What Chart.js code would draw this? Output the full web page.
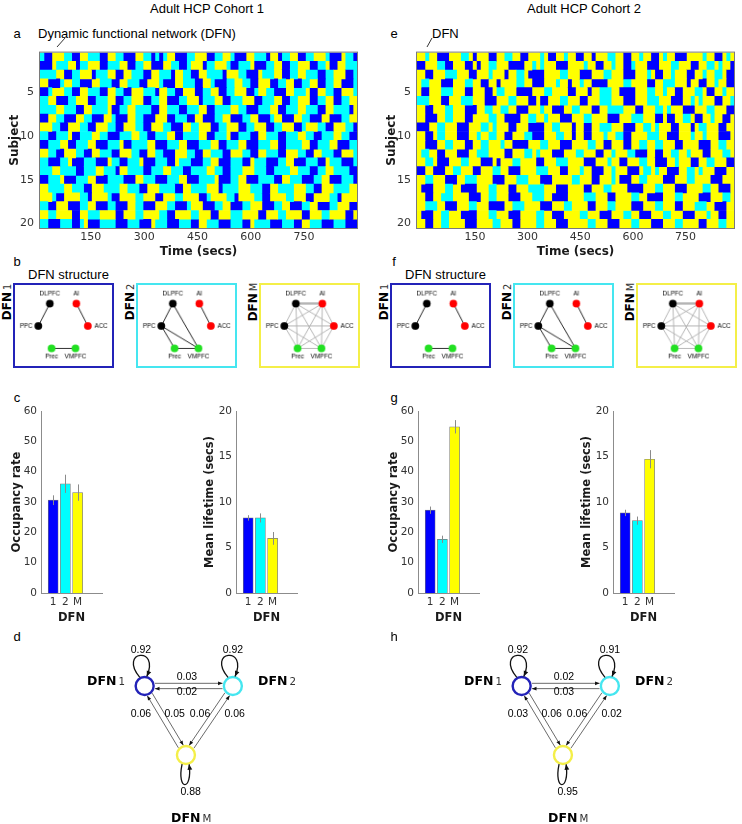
<!DOCTYPE html>
<html>
<head>
<meta charset="utf-8">
<title>DFN figure</title>
<script src="https://cdn.jsdelivr.net/npm/chart.js@4.4.1/dist/chart.umd.min.js"></script>
<style>
  body { margin: 0; background: #fff; }
  #page { position: relative; width: 742px; height: 824px; overflow: hidden; background: #fff;
          font-family: "Liberation Sans", Arial, sans-serif; color: #000; }
  #page canvas { position: absolute; }
  .t { position: absolute; white-space: nowrap; line-height: 1; }
  .lab { font-family: "DejaVu Sans", sans-serif; font-weight: bold; }
  .lab span { font-weight: normal; font-size: 0.82em; color: #333; margin-left: 2px; }
</style>
</head>
<body>
<div id="page"></div>
<script>
// ---------- data ----------
const dfnLabels = ['1', '2', 'M'];
const subjects = ['1','2','3','4','5','6','7','8','9','10','11','12','13','14','15','16','17','18','19','20'];
const timeTicks = [150, 300, 450, 600, 750];
const timeAxis1 = [7, 899];    // time (secs) spanned by the x axis, cohort 1
const timeAxis2 = [-15, 888];  // cohort 2

// DFN state per time bin for each subject: B = DFN 1, C = DFN 2, Y = DFN M
const seq1 = [
  'CBBYYYCCBB YYCCCBBYYC CBBBYYCCBC BCYYBBBCCY YYBBCCYYCB BBYYCCCBYY BCCYYBBCCY YYCBBBYCCB',
  'BBBYCCCYYB CCYYYBBCCC YYBBCCYYBB BYYCCBBCYY YBCCYYYCBB CCCYBBBCCY YBBCCYYYBB CCYBBYYCCC',
  'CCCCYYBBCC YYYBCCCYYB BYYCCCBBYY CCCBYYCCBB YYCCCCBYYY CCBBBYCCCY YBBCCYYCCC BBCCYYYBBC',
  'YYBBBCYYCC BBBYYCCCBB YYCCCBBYYY CBBBYYCCCB BYYCBBBCCY YCCBBYYYBB CCYYBBCCYY BBCCYYBBBC',
  'BBCYYYCCBB YYCCCBBYYC CBBYYYCCCB YYCCBBYYYB BCCYYBBCCY YYBBCYYCCB BBYYCCCYBB YYCCBBYYYC',
  'CCYYBBBCCY YYBBCCCYYB BCCYYYBBCC YYBBBCCYYY BCCCYYBBCC CYYYBBCCCY YBBCCYYYBB CCYYBBCCYY',
  'CCCCYYCCCB BYYCCCCYBB CCYYCCCCBB YYCCCBBCCC YYBBCCCCYY CCBBBCCCYY BBCCCYYCCC BBYYCCCCBY',
  'BBYYCCBBBY YCCBBBYYCB BBYYCCBBBY YYBBCCCBBY YBBBCCYYBB BCCYYBBBCY YBBBYYCCBB BYYBBBCCYY',
  'YYYCCBBYYY CCBBYYYCCB BYYYCCBBYY YCCBBBYYCC YYYBBCCYYY BBCCYYYBBC CYYYBBCYYY CCBBYYYCCB',
  'CCBBCCCYBB CCCYYCCBBB CCCYYCCBBC CCYYBBCCCC YYBBCCCYBB CCCBBYYCCC BBCCCYYCCB BCCCYYCCBB',
  'BBCCCYYBBC CCYYBBBCCC YBBCCCCYYB BBCCCYYBBB CCCYYBBCCC YYBBBCCCYY BBCCCCYYBB CCCYYBBBCC',
  'YYCCBBYYYC CBBYYCCCBB YYYCCBBYYC CBBBYYYCCB BYYCCCBBYY YCCBBYYCCC BBYYYCCBBY YCCCBBYYYC',
  'CCBBBCCYBB BCCCBBBYCC BBCCCYBBBC CCBBYCCCBB BCCYYBBBCC CBBYCCCBBB CCYYBBBCCC BBYCCCBBBC',
  'CCCYYCCCCB BCCCYYCCCB YYCCCCBBCC CYYCCCBBCC CCYYCCBBCC CYYYCCCBBC CCCYYCCCBB CCYYCCCCBB',
  'BBCCCYBBBC CCYYBBBCCC CBBBYYCCCB BBCCCYYBBB CCCCYBBBCC YYBBBCCCCB BYYCCCBBBC CYYBBBCCCB',
  'YYCCCCYYCC CBBYYYCCCC YYCCCBBYYY CCCCBBYYCC CCYYYBCCCC YYYCCCBBYY CCCCYYYCCB BYYYCCCCYY',
  'YYYCBBYYYY CCBYYYYCBB YYYYCCYYYB BYYYCCYYYY BBCYYYYCCB YYYYCCBBYY YYCCYYYBBY YYYCCBYYYY',
  'CCBBYYYBBB CCYYBBBCCB BBYYCCBBBY YYCCBBBCYY YBBBCCYYBB BCCYYYBBBC CYYBBBCCYY BBBCCYYYBB',
  'YYCCYYYYBB YYCCCYYYYB BYYYCCYYYY CCBBYYYYCC YYYBBYYYCC CYYYYBBYYY CCYYYYBBYY YCCYYYYBBY',
  'CCBBBCCCBB CYBBBCCCCB BBCCCBBBYC CCBBBCCCBB YYCCCBBBCC CBBYCCCCBB BCCCBBYYCC CBBBCCCBBB'
];
const seq2 = [
  'YYCYYBBBYY YCCYBYYYBB YYCCYYBBYY YCYBBYYCYY BBYYBYYYCC YYBBYYCYYB BYCYYBBBYY YYCYYBBYCY',
  'BBYYYCCBBY YYBBYBYYCC YYYBBBBYYC YCYYYBBBYY YYCYYBBYYC YYBBCYYYBB BYYYCCYYYB BYYCCYCYYB',
  'YYBBYYYCCC YYYBBYYYCY YYBYYCCYBB BBYYYYCCYY YBBBYYYCCY YYBBBYYYCY BBYYCYYYBB YYCYYCCYBB',
  'YCCYYYBBBY YYCCYYBBYY BYYYYCCYYB BBYYYCYYBY YCYYBBBBYY YYCCYYYYBB YYCCCYYYBY YBBYYCYYBB',
  'YBBYYYCCCY YYBBYYYBBY CCYYYBBBBY YYCCYYYYBB YYYBYYCCCY YBBBBYYYCC YYCYYBBYYY CCYBBYYCYY',
  'CCCYYYBBYY YCCCYYYBBB YYYCCYYYBB YBBYYYCCYY YBBYYYCCCY YYBBBYYYCC CYYYBBBYYC YCYYYBBYYC',
  'YYBBYYYCCY YYBBBYYCCY YCCYYBBBYY YCYYBBBYYC CYYYBBYYCC CCYYYBBYYY CCYCYYYBBB YYYCCYYYBB',
  'YYBBBYYCCY YYBBYYYYCC YYBBBBYYCC YYCYYYBBBY YYCCYYYYBB BYYYCCCYYY BBYBBYYCCY BBYYCYYBBY',
  'BBBYYCCYYY BBBYYYCCYC YYYBBYYYBB BBYYCCYYYB YYBBYYCCCY YYBBBYYCCY CYYYBBYYYB YCCYYYBBYY',
  'YYBBYCCYYY BBBYYCYYCC YYBBYYYCCB BBYYYCCYYB YYBBYYYCYY CCBBYYYYCC CYYBBBYYYC YYCYYYBBBY',
  'YYBBBYYCCY YYBBYYCCYY YCYYBBBBYY YCCYYYBBBY YYYCCYYBBY YYBBYYCCYY CCYYYBBYYY YBBBYYCCYY',
  'YCCYYBBYYY BBBYYCCCYY YYBBYYYCCY CYYYBBBYYY CCYYYBBYYC YYYCCBBBYY BBYYCCYYCY YYBBYYYCCY',
  'YYCCYBBBYY YCCYYYBBBY BYYYCCYYYY BBYYYCCCYY YYBBBYYYCY YBBYYYCCYY BBBYYCYYYB BYYCCYYYBB',
  'BBYYBBBYYC CYYYBBYYYC CYYBBBYYYY CCCYYYBBYY YCYYBBBYYC YYYBBBYCCY CYYBBBYYCC YCYYYBBBYY',
  'YYCCYYYBBB YYCCCYYYYB BBYYYCCCYY YBBBYYYYYC CYYYBBYYYC YBBBYYCCYY YYBBBYYYCC YYYYBBBYYY',
  'YBBBYYYCCY YBBBBYYYCC YYYBBYYYCC CCYYYBBBYY YYBBYYYCCY YYYBBBBYYY CCYYYBBBYY YYCCYYBBBY',
  'YYBBYYCCCY YYYBBBYYCC YYYBBBYYYC CCYYBBBBYY YYCCCYYYBB YYYYCCYYBB BBYYYCCYYY YBBBYYYCCY',
  'YYCCCYYBBB YYYCCYYYBB BBYYCCCYYY YBBBYYYCCY YYYBBYYYCC YYYYBBBYYY CCYYYBBYYY CCCYYBBBYY',
  'YBBBYYCCYY YBBBBYYYCC YYYBBBYYYY CCYYBBBYYY YCCYYYBBBY YYCCYYBBBY YYCCYYYBBB YYYCYYBBYY',
  'YYBBYYCCYY YYBBBYYYYC CYYYBBYYYY CCYYYBBBYY YYYCCYYYBB BYYYCCYYYB BBYYYCCYYY YBBYYYCCYY'
];

const occTicks = [0, 10, 20, 30, 40, 50, 60];
const lifeTicks = [0, 5, 10, 15, 20];
const occRate1 = [30.6, 36.0, 33.1];
const occErr1 = [1.6, 3.0, 2.7];
const lifetime1 = [8.25, 8.25, 6.0];
const lifeErr1 = [0.3, 0.5, 0.7];
const occRate2 = [27.3, 17.7, 54.8];
const occErr2 = [1.2, 1.2, 2.2];
const lifetime2 = [8.8, 7.95, 14.7];
const lifeErr2 = [0.35, 0.45, 1.0];

// transition probabilities, row = from, col = to (DFN 1, DFN 2, DFN M)
const transProb1 = [[0.92, 0.03, 0.05], [0.02, 0.92, 0.06], [0.06, 0.06, 0.88]];
const transProb2 = [[0.92, 0.02, 0.06], [0.03, 0.91, 0.06], [0.03, 0.02, 0.95]];

// DFN structure graphs
const regions = ['DLPFC', 'AI', 'PPC', 'ACC', 'Prec', 'VMPFC'];
const edgesDFN1 = [[0, 2], [1, 3], [4, 5]];
const edgesDFN2 = [[0, 2], [1, 3], [4, 5], [0, 5], [2, 5], [2, 4]];
const edgesDFNM = [[0, 1], [0, 2], [0, 3], [0, 4], [0, 5], [1, 2], [1, 3], [1, 4], [1, 5],
                   [2, 3], [2, 4], [2, 5], [3, 4], [3, 5], [4, 5]];

// ---------- styles / layout ----------
const stateColor = { B: '#0000ff', C: '#00ffff', Y: '#ffff00' };
const dfnColor = ['#0000ff', '#00ffff', '#ffff00'];
const frameColor = ['#2323b8', '#45e6f0', '#f4ef48'];
const regionColor = ['#000', '#ff0000', '#000', '#ff0000', '#22e022', '#22e022'];
const regionPos = [[35, 17], [65, 17], [22, 43], [78, 43], [37, 69], [64, 69]];
const regionLabelOff = [[0, -10, 'center'], [0, -10, 'center'], [-6, 0, 'right'], [7, 0, 'left'], [0, 9, 'center'], [0, 9, 'center']];
const nodePos = [[142, 56], [236, 56], [186, 134]];
const transEdges = [
  { from: 0, to: 1, side: 1, label: [187, 46] },
  { from: 1, to: 0, side: 1, label: [187, 63] },
  { from: 0, to: 2, side: 1, label: [174, 88] },
  { from: 2, to: 0, side: 1, label: [138, 88] },
  { from: 1, to: 2, side: -1, label: [201, 88] },
  { from: 2, to: 1, side: -1, label: [238, 88] }
];
const loopShape = [{ a1: -118, a2: -78, ext: 28 }, { a1: -118, a2: -78, ext: 28 }, { a1: 112, a2: 72, ext: 23 }];
const loopLabel = [[138, 15], [236, 15], [191, 176]];

Chart.defaults.font.family = '"DejaVu Sans", sans-serif';
Chart.defaults.color = '#333';

const page = document.getElementById('page');

function put(html, x, y, size, cls, tf) {
  const d = document.createElement('div');
  d.className = 't' + (cls ? ' ' + cls : '');
  d.innerHTML = html;
  d.style.left = x + 'px';
  d.style.top = y + 'px';
  d.style.fontSize = size + 'px';
  d.style.transform = tf || 'translate(-50%,-50%)';
  page.appendChild(d);
}

function makeCanvas(x, y, w, h, css) {
  const c = document.createElement('canvas');
  c.width = w; c.height = h;
  c.style.left = x + 'px'; c.style.top = y + 'px';
  if (css) c.style.cssText += css;
  page.appendChild(c);
  return c;
}

const noLegend = { legend: { display: false }, tooltip: { enabled: false } };
const noGrid = { display: false, drawTicks: false };

// box round the heatmap
const frame = {
  id: 'frame',
  afterDraw(chart) {
    const a = chart.chartArea, ctx = chart.ctx;
    ctx.save();
    ctx.strokeStyle = '#7a7a7a';
    ctx.lineWidth = 1;
    ctx.strokeRect(a.left - 0.5, a.top - 0.5, a.right - a.left + 1, a.bottom - a.top + 1);
    ctx.restore();
  }
};

function toRuns(str, span) {
  const s = str.replace(/ /g, '');
  const dt = (span[1] - span[0]) / s.length;
  const out = [];
  let k = 0;
  for (let i = 1; i <= s.length; i++) {
    if (i === s.length || s[i] !== s[k]) {
      out.push({ t0: span[0] + k * dt, t1: span[0] + i * dt, s: s[k] });
      k = i;
    }
  }
  return out;
}

function heatmap(canvas, seqs, span) {
  const rowRuns = seqs.map(r => toRuns(r, span));
  const n = Math.max(...rowRuns.map(r => r.length));
  const datasets = [];
  for (let k = 0; k < n; k++) {
    datasets.push({
      data: rowRuns.map(r => r[k] ? [r[k].t0, r[k].t1] : null),
      backgroundColor: rowRuns.map(r => r[k] ? stateColor[r[k].s] : 'rgba(0,0,0,0)'),
      borderWidth: 0, grouped: false, barPercentage: 1, categoryPercentage: 1
    });
  }
  return new Chart(canvas, {
    type: 'bar',
    data: { labels: subjects, datasets },
    options: {
      indexAxis: 'y', responsive: false, animation: false,
      layout: { padding: { top: 5, right: 13 } },
      plugins: noLegend,
      scales: {
        x: {
          type: 'linear', min: span[0], max: span[1],
          afterBuildTicks: s => { s.ticks = timeTicks.map(v => ({ value: v })); },
          afterFit: s => { s.height = 37; },
          grid: noGrid, border: { display: false },
          ticks: { padding: 3, font: { size: 11 } },
          title: { display: true, text: 'Time (secs)', color: '#1a1a1a',
                   font: { size: 12, weight: 'bold' }, padding: { top: 0, bottom: 6 } }
        },
        y: {
          afterFit: s => { s.width = 40; },
          grid: noGrid, border: { display: false },
          ticks: { autoSkip: false, padding: 6, font: { size: 11 },
                   callback: (v, i) => (i + 1) % 5 === 0 ? subjects[i] : '' },
          title: { display: true, text: 'Subject', color: '#1a1a1a',
                   font: { size: 12, weight: 'bold' }, padding: { top: 8, bottom: 0 } }
        }
      }
    },
    plugins: [frame]
  });
}

// x slots of the bar panels: an empty slot before the three DFNs and two after
const barSlots = [''].concat(dfnLabels, ['', '']);

function errorBars(errs) {
  return {
    id: 'errorBars',
    afterDatasetsDraw(chart) {
      const ds = chart.data.datasets[0];
      const y = chart.scales.y, ctx = chart.ctx;
      ctx.save();
      ctx.strokeStyle = '#8a8a8a';
      ctx.lineWidth = 1;
      chart.getDatasetMeta(0).data.forEach((bar, i) => {
        const v = ds.data[i];
        if (v === null) return;
        const e = errs[i - 1];
        const px = Math.round(bar.x) + 0.5;
        ctx.beginPath();
        ctx.moveTo(px, y.getPixelForValue(v - e));
        ctx.lineTo(px, y.getPixelForValue(v + e));
        ctx.stroke();
      });
      ctx.restore();
    }
  };
}

function barPanel(canvas, vals, errs, yTicks, title, titlePad) {
  return new Chart(canvas, {
    type: 'bar',
    data: {
      labels: barSlots,
      datasets: [{
        data: [null].concat(vals, [null, null]),
        backgroundColor: ['rgba(0,0,0,0)'].concat(dfnColor, ['rgba(0,0,0,0)', 'rgba(0,0,0,0)']),
        borderColor: 'rgba(60,60,60,0.7)', borderWidth: 0.7,
        borderSkipped: 'bottom', barThickness: 10
      }]
    },
    options: {
      responsive: false, animation: false,
      layout: { padding: { top: 11, right: 8 } },
      plugins: noLegend,
      scales: {
        x: {
          type: 'category', offset: false,
          afterFit: s => { s.height = 37; },
          grid: noGrid, border: { color: '#8c8c8c' },
          ticks: { autoSkip: false, maxRotation: 0, padding: 3, font: { size: 10.5 },
                   callback: (v, i) => barSlots[i] },
          title: { display: true, text: 'DFN', color: '#1a1a1a',
                   font: { size: 11.5, weight: 'bold' }, padding: { top: 0, bottom: 5 } }
        },
        y: {
          min: 0, max: yTicks[yTicks.length - 1],
          afterBuildTicks: s => { s.ticks = yTicks.map(v => ({ value: v })); },
          afterFit: s => { s.width = 41; },
          grid: noGrid, border: { color: '#8c8c8c' },
          ticks: { padding: 4, font: { size: 10.5 } },
          title: { display: true, text: title, color: '#1a1a1a',
                   font: { size: 11.5, weight: 'bold' }, padding: { top: titlePad, bottom: 0 } }
        }
      }
    },
    plugins: [errorBars(errs)]
  });
}

const regionLabels = {
  id: 'regionLabels',
  afterDatasetsDraw(chart) {
    const ctx = chart.ctx, sx = chart.scales.x, sy = chart.scales.y;
    ctx.save();
    ctx.font = '6.5px "Liberation Sans", Arial, sans-serif';
    ctx.fillStyle = '#000';
    ctx.textBaseline = 'middle';
    regions.forEach((name, i) => {
      const o = regionLabelOff[i];
      ctx.textAlign = o[2];
      ctx.fillText(name, sx.getPixelForValue(regionPos[i][0]) + o[0], sy.getPixelForValue(regionPos[i][1]) + o[1]);
    });
    ctx.restore();
  }
};

function network(canvas, edges, edgeColor, full) {
  const datasets = [{
    type: 'scatter', order: 0,
    data: regionPos.map(p => ({ x: p[0], y: p[1] })),
    pointRadius: 4, pointBorderWidth: 0, pointBackgroundColor: regionColor
  }];
  edges.forEach(([a, b]) => datasets.push({
    type: 'line', order: 1,
    data: [{ x: regionPos[a][0], y: regionPos[a][1] }, { x: regionPos[b][0], y: regionPos[b][1] }],
    borderColor: edgeColor,
    borderWidth: full && a === 0 && b === 1 ? 2.5 : 1,
    pointRadius: 0
  }));
  return new Chart(canvas, {
    type: 'scatter',
    data: { datasets },
    options: {
      responsive: false, animation: false,
      plugins: noLegend,
      scales: {
        x: { type: 'linear', min: 0, max: 101, display: false },
        y: { type: 'linear', min: 0, max: 85, reverse: true, display: false }
      }
    },
    plugins: [regionLabels]
  });
}

// ---- transition diagram ----
const edgeGap = 3, edgeTrim = 11;
function edgeGeom(e) {
  const a = nodePos[e.from], b = nodePos[e.to];
  const dx = b[0] - a[0], dy = b[1] - a[1], len = Math.hypot(dx, dy);
  const ux = dx / len, uy = dy / len;
  const nx = uy * e.side * edgeGap, ny = -ux * e.side * edgeGap;
  return {
    start: [a[0] + ux * edgeTrim + nx, a[1] + uy * edgeTrim + ny],
    end: [b[0] - ux * edgeTrim + nx, b[1] - uy * edgeTrim + ny]
  };
}

function arrowHead(ctx, from, to, len, half) {
  const dx = to[0] - from[0], dy = to[1] - from[1], l = Math.hypot(dx, dy);
  const ux = dx / l, uy = dy / l;
  ctx.beginPath();
  ctx.moveTo(to[0], to[1]);
  ctx.lineTo(to[0] - ux * len - uy * half, to[1] - uy * len + ux * half);
  ctx.lineTo(to[0] - ux * len + uy * half, to[1] - uy * len - ux * half);
  ctx.closePath();
  ctx.fill();
}

function transDecor(prob) {
  return {
    id: 'transDecor',
    afterDatasetsDraw(chart) {
      const ctx = chart.ctx, sx = chart.scales.x, sy = chart.scales.y;
      const px = p => [sx.getPixelForValue(p[0]), sy.getPixelForValue(p[1])];
      const dir = (c, r, a) => [c[0] + r * Math.cos(a * Math.PI / 180), c[1] + r * Math.sin(a * Math.PI / 180)];
      ctx.save();
      ctx.fillStyle = '#111';
      ctx.strokeStyle = '#111';
      transEdges.forEach(e => {
        const g = edgeGeom(e);
        arrowHead(ctx, px(g.start), px(g.end), 4.5, 1.8);
      });
      nodePos.forEach((c, i) => {
        const L = loopShape[i];
        const p0 = px(dir(c, edgeTrim, L.a1)), p3 = px(dir(c, edgeTrim, L.a2));
        const p1 = px(dir(c, edgeTrim + L.ext * 1.35, L.a1 - 8));
        const p2 = px(dir(c, edgeTrim + L.ext * 1.35, L.a2 + 8));
        ctx.lineWidth = 1.3;
        ctx.beginPath();
        ctx.moveTo(p0[0], p0[1]);
        ctx.bezierCurveTo(p1[0], p1[1], p2[0], p2[1], p3[0], p3[1]);
        ctx.stroke();
        arrowHead(ctx, p2, p3, 5.5, 2.4);
      });
      ctx.font = '10.5px "Liberation Sans", Arial, sans-serif';
      ctx.fillStyle = '#000';
      ctx.textAlign = 'center';
      ctx.textBaseline = 'middle';
      transEdges.forEach(e => {
        const p = px(e.label);
        ctx.fillText(prob[e.from][e.to].toFixed(2), p[0], p[1]);
      });
      nodePos.forEach((c, i) => {
        const p = px(loopLabel[i]);
        ctx.fillText(prob[i][i].toFixed(2), p[0], p[1]);
      });
      ctx.restore();
    }
  };
}

function transition(canvas, prob) {
  const datasets = [{
    type: 'scatter', order: 0,
    data: nodePos.map(p => ({ x: p[0], y: p[1] })),
    pointRadius: 9, pointBorderWidth: 2.4,
    pointBackgroundColor: '#fff', pointBorderColor: frameColor
  }];
  transEdges.forEach(e => {
    const g = edgeGeom(e);
    datasets.push({
      type: 'line', order: 1,
      data: [{ x: g.start[0], y: g.start[1] }, { x: g.end[0], y: g.end[1] }],
      borderColor: '#444', borderWidth: 0.8, pointRadius: 0
    });
  });
  return new Chart(canvas, {
    type: 'scatter',
    data: { datasets },
    options: {
      responsive: false, animation: false,
      plugins: noLegend,
      scales: {
        x: { type: 'linear', min: 0, max: 370, display: false },
        y: { type: 'linear', min: 0, max: 199, reverse: true, display: false }
      }
    },
    plugins: [transDecor(prob)]
  });
}

// ---------- build both cohorts ----------
const cohorts = [
  { dx: 0, title: 'Adult HCP Cohort 1', note: 'Dynamic functional network (DFN)', noteX: 38, lead: [65, 38, 57, 47],
    seq: seq1, span: timeAxis1, occ: occRate1, occErr: occErr1, life: lifetime1, lifeErr: lifeErr1,
    prob: transProb1, letters: ['a', 'b', 'c', 'd'] },
  { dx: 377, title: 'Adult HCP Cohort 2', note: 'DFN', noteX: 432, lead: [432, 38, 427, 47],
    seq: seq2, span: timeAxis2, occ: occRate2, occErr: occErr2, life: lifetime2, lifeErr: lifeErr2,
    prob: transProb2, letters: ['e', 'f', 'g', 'h'] }
];

let leaders = '';
cohorts.forEach(c => {
  const dx = c.dx;
  put(c.title, 207 + dx, 8, 13);
  put(c.letters[0], 17 + dx, 33, 13);
  put(c.letters[1], 17 + dx, 261, 13);
  put(c.letters[2], 17 + dx, 397, 13);
  put(c.letters[3], 17 + dx, 636, 13);
  put(c.note, c.noteX, 33, 13, '', 'translate(0,-50%)');
  leaders += '<line x1="' + c.lead[0] + '" y1="' + c.lead[1] + '" x2="' + c.lead[2] + '" y2="' + c.lead[3] + '" stroke="#000" stroke-width="0.8"/>';

  heatmap(makeCanvas(dx, 40, 370, 225), c.seq, c.span);

  put('DFN structure', 28 + dx, 274, 13, '', 'translate(0,-50%)');
  const boxX = [13, 136, 259];
  const boxEdges = [edgesDFN1, edgesDFN2, edgesDFNM];
  boxX.forEach((bx, k) => {
    const cv = makeCanvas(bx + dx, 283, 101, 85, 'border:2px solid ' + frameColor[k] + ';');
    network(cv, boxEdges[k], k === 2 ? '#b4b4b4' : '#222', k === 2);
    put('DFN<span>' + dfnLabels[k] + '</span>', bx - 6 + dx, 302, 12, 'lab', 'translate(-50%,-50%) rotate(-90deg)');
  });

  barPanel(makeCanvas(dx, 400, 110, 230), c.occ, c.occErr, occTicks, 'Occupancy rate', 10);
  barPanel(makeCanvas(195 + dx, 400, 110, 230), c.life, c.lifeErr, lifeTicks, 'Mean lifetime (secs)', 8.5);

  transition(makeCanvas(dx, 625, 370, 199), c.prob);
  const n = nodePos;
  put('DFN<span>1</span>', n[0][0] - 55 + dx, n[0][1] + 625, 12.5, 'lab', 'translate(0,-50%)');
  put('DFN<span>2</span>', n[1][0] + 22 + dx, n[1][1] + 625, 12.5, 'lab', 'translate(0,-50%)');
  put('DFN<span>M</span>', n[2][0] - 15 + dx, n[2][1] + 625 + 59, 12.5, 'lab', 'translate(0,-50%)');
});

const svgWrap = document.createElement('div');
svgWrap.innerHTML = '<svg width="742" height="824" style="position:absolute;left:0;top:0;pointer-events:none">' + leaders + '</svg>';
page.appendChild(svgWrap);
</script>
</body>
</html>
